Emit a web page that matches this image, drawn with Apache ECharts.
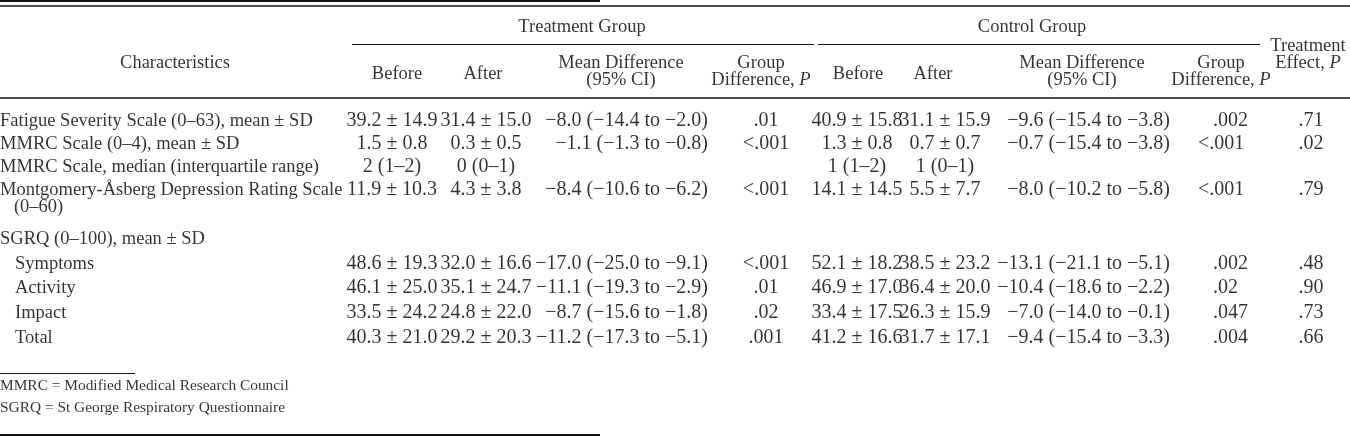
<!DOCTYPE html>
<html><head><meta charset="utf-8">
<script src="https://cdn.jsdelivr.net/npm/echarts@6/dist/echarts.min.js"></script>
<style>html,body{margin:0;padding:0;background:#fff}#c{width:1350px;height:436px}</style>
</head><body><div id="c"></div>
<script>
// ---------- DATA ----------
const characteristics = [
  "Fatigue Severity Scale (0–63), mean ± SD",
  "MMRC Scale (0–4), mean ± SD",
  "MMRC Scale, median (interquartile range)",
  "Montgomery-Åsberg Depression Rating Scale\n\u00a0\u00a0\u00a0(0–60)",
  "SGRQ (0–100), mean ± SD",
  "Symptoms",
  "Activity",
  "Impact",
  "Total"
];
const trBefore = ["39.2 ± 14.9","1.5 ± 0.8","2 (1–2)","11.9 ± 10.3","","48.6 ± 19.3","46.1 ± 25.0","33.5 ± 24.2","40.3 ± 21.0"];
const trAfter  = ["31.4 ± 15.0","0.3 ± 0.5","0 (0–1)","4.3 ± 3.8","","32.0 ± 16.6","35.1 ± 24.7","24.8 ± 22.0","29.2 ± 20.3"];
const trDiff   = ["−8.0 (−14.4 to −2.0)","−1.1 (−1.3 to −0.8)","","−8.4 (−10.6 to −6.2)","","−17.0 (−25.0 to −9.1)","−11.1 (−19.3 to −2.9)","−8.7 (−15.6 to −1.8)","−11.2 (−17.3 to −5.1)"];
const trP      = [".01","<.001","","<.001","","<.001",".01",".02",".001"];
const ctBefore = ["40.9 ± 15.8","1.3 ± 0.8","1 (1–2)","14.1 ± 14.5","","52.1 ± 18.2","46.9 ± 17.0","33.4 ± 17.5","41.2 ± 16.6"];
const ctAfter  = ["31.1 ± 15.9","0.7 ± 0.7","1 (0–1)","5.5 ± 7.7","","38.5 ± 23.2","36.4 ± 20.0","26.3 ± 15.9","31.7 ± 17.1"];
const ctDiff   = ["−9.6 (−15.4 to −3.8)","−0.7 (−15.4 to −3.8)","","−8.0 (−10.2 to −5.8)","","−13.1 (−21.1 to −5.1)","−10.4 (−18.6 to −2.2)","−7.0 (−14.0 to −0.1)","−9.4 (−15.4 to −3.3)"];
const ctP      = [".002","<.001","","<.001","",".002",".02",".047",".004"];
const effectP  = [".71",".02","",".79","",".48",".90",".73",".66"];

const stubHeader = "Characteristics";
const groupHeaders = ["Treatment Group","Control Group"];
const columnHeaders = ["Before","After","Mean Difference\n(95% CI)","Group\nDifference, {i|P}",
                       "Before","After","Mean Difference\n(95% CI)","Group\nDifference, {i|P}","Treatment\nEffect, {i|P}"];
const footnotes = ["MMRC = Modified Medical Research Council","SGRQ = St George Respiratory Questionnaire"];

// ---------- LAYOUT ----------
const W = 1350, H = 436;
const FONT = '"Liberation Serif","Times New Roman",Times,serif';
const FS = 18.5;      // text
const FSV = 20;       // numeric cells
const INK = '#000';
const rowY = [121,144,167,190,239,264,288,313,338];
const indent = [0,0,0,0,0,15,15,15,15];
const columns = [
  {vals: trBefore, x: 392, align: 'center'},
  {vals: trAfter,  x: 486, align: 'center'},
  {vals: trDiff,   x: 708, align: 'right'},
  {vals: trP,      x: 766, align: 'center'},
  {vals: ctBefore, x: 857, align: 'center'},
  {vals: ctAfter,  x: 945, align: 'center'},
  {vals: ctDiff,   x: 1170, align: 'right'},
  {vals: ctP,      x: 1213, align: 'left', hang: 15},
  {vals: effectP,  x: 1311, align: 'center'}
];
const headerPos = [[397,74],[483,74],[621,71.5],[761,71.5],[858,74],[933,74],[1082,71.5],[1221,71.5],[1308,55]];
const groupPos = [[582,27],[1032,27]];
const stubPos = [175,63];
const footPos = [[0,386],[0,408]];
const rules = [
  {from:[0,1], to:[600,1], w:2},
  {from:[0,6], to:[W,6], w:1.5},
  {from:[352,44.5], to:[814,44.5], w:1},
  {from:[818,44.5], to:[1260,44.5], w:1},
  {from:[0,98], to:[W,98], w:1.5},
  {from:[0,373.5], to:[135,373.5], w:1},
  {from:[0,434.5], to:[600,434.5], w:2}
];

const baseLabel = {show:true, position:[0,0], color:INK, fontFamily:FONT, fontSize:FS,
  rich:{i:{fontStyle:'italic', fontFamily:FONT, fontSize:FS, color:INK}}};

function textSeries(points, texts, labelOpts){
  return {
    type:'scatter', symbolSize:0, silent:true, animation:false,
    data: points.map((p,i)=>({value:p, label: Object.assign({}, labelOpts(i))})),
    label: Object.assign({}, baseLabel, {formatter: p => texts[p.dataIndex]})
  };
}

const series = [];
// stub column
series.push(textSeries(rowY.map((y,i)=>[indent[i], y]), characteristics,
  i => ({align:'left', verticalAlign:'top', lineHeight:17, offset:[0,-8.5]})));
// value columns
columns.forEach(c => {
  series.push(textSeries(rowY.map(y=>[c.x, y]), c.vals,
    i => ({align:c.align, verticalAlign:'middle', fontSize:FSV,
           offset:[(c.hang && c.vals[i].startsWith('<')) ? -c.hang : 0, 0]})));
});
// headers
series.push(textSeries([stubPos], [stubHeader], i => ({align:'center', verticalAlign:'middle'})));
series.push(textSeries(groupPos, groupHeaders, i => ({align:'center', verticalAlign:'middle'})));
series.push(textSeries(headerPos, columnHeaders, i => ({align:'center', verticalAlign:'middle', lineHeight:17})));
// footnotes
series.push(textSeries(footPos, footnotes, i => ({align:'left', verticalAlign:'middle', fontSize:15.4})));
// rules
series.push({
  type:'scatter', symbolSize:0, silent:true, animation:false, data:[],
  markLine:{silent:true, symbol:['none','none'], animation:false, label:{show:false},
    data: rules.map(r => [{coord:r.from, lineStyle:{color:'#111', width:r.w, type:'solid'}}, {coord:r.to}])}
});

const chart = echarts.init(document.getElementById('c'), null, {renderer:'canvas'});
chart.setOption({
  animation:false,
  backgroundColor:'#fff',
  grid:{left:0, right:0, top:0, bottom:0, containLabel:false},
  xAxis:{type:'value', min:0, max:W, show:false},
  yAxis:{type:'value', min:0, max:H, inverse:true, show:false},
  series
});
</script></body></html>
